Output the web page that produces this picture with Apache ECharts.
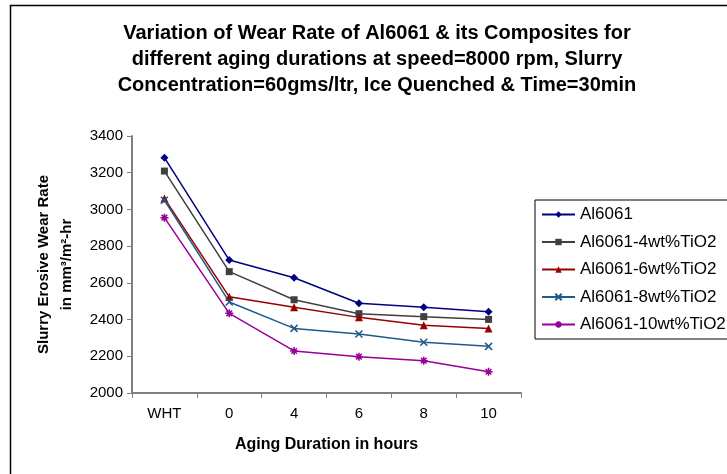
<!DOCTYPE html>
<html>
<head>
<meta charset="utf-8">
<script src="https://cdn.jsdelivr.net/npm/echarts@6/dist/echarts.min.js"></script>
<style>
    html, body {margin: 0; padding: 0; background: #fff;}
    #chart {width: 727px; height: 474px;}
</style>
</head>
<body>
<div id="chart"></div>
<script>
    var durations = ['WHT', '0', '4', '6', '8', '10'];
    var seriesNames = ['Al6061', 'Al6061-4wt%TiO2', 'Al6061-6wt%TiO2', 'Al6061-8wt%TiO2', 'Al6061-10wt%TiO2'];
    var al6061 = [3282, 2724, 2628, 2489, 2467, 2443];
    var tio2_4 = [3209, 2661, 2508, 2432, 2416, 2401];
    var tio2_6 = [3060, 2524, 2467, 2412, 2369, 2352];
    var tio2_8 = [3050, 2496, 2352, 2321, 2276, 2254];
    var tio2_10 = [2955, 2434, 2229, 2198, 2176, 2116];

    var font = 'Arial, "Liberation Sans", sans-serif';
    var colors = ['#000080', '#404040', '#990000', '#1F5A8A', '#990099'];
    var symbols = [
        'diamond',
        'rect',
        'triangle',
        'path://M0,0L10,10M10,0L0,10',
        'path://M0,5L10,5M5,0L5,10M1.5,1.5L8.5,8.5M8.5,1.5L1.5,8.5'
    ];
    var sizes = [8, 7, 8, 7, 8];
    var values = [al6061, tio2_4, tio2_6, tio2_8, tio2_10];

    var series = seriesNames.map(function (name, i) {
        return {
            name: name,
            type: 'line',
            data: values[i],
            symbol: symbols[i],
            symbolSize: sizes[i],
            lineStyle: {color: colors[i], width: 1.5},
            itemStyle: {color: colors[i], borderColor: colors[i], borderWidth: i > 2 ? 1.5 : 0}
        };
    });

    var chart = echarts.init(document.getElementById('chart'));
    chart.setOption({
        animation: false,
        backgroundColor: '#FFFFFF',
        textStyle: {fontFamily: font},
        graphic: [{
            type: 'rect',
            shape: {x: 10.5, y: 5.5, width: 800, height: 600},
            style: {fill: 'none', stroke: '#000', lineWidth: 1.5},
            silent: true
        }, {
            // chart title, centred a bit right of the canvas middle like the original
            type: 'text',
            x: 377,
            y: 20,
            silent: true,
            style: {
                text: 'Variation of Wear Rate of Al6061 & its Composites for\ndifferent aging durations at speed=8000 rpm, Slurry\nConcentration=60gms/ltr, Ice Quenched & Time=30min',
                align: 'center',
                verticalAlign: 'top',
                fontFamily: font,
                fontSize: 20,
                fontWeight: 'bold',
                lineHeight: 26,
                fill: '#000'
            }
        }],
        legend: {
            orient: 'vertical',
            left: 535,
            top: 200,
            padding: [6, 40, 6, 6],
            itemGap: 10.5,
            itemWidth: 33,
            itemHeight: 8,
            borderColor: '#000',
            borderWidth: 1,
            data: seriesNames,
            textStyle: {fontFamily: font, fontSize: 17, color: '#000'}
        },
        grid: {left: 132, right: 206, top: 136, bottom: 81},
        xAxis: {
            type: 'category',
            data: durations,
            boundaryGap: true,
            name: 'Aging Duration in hours',
            nameLocation: 'middle',
            nameGap: 44,
            nameTextStyle: {fontFamily: font, fontSize: 16, fontWeight: 'bold', color: '#000'},
            axisLine: {lineStyle: {color: '#808080', width: 2}},
            axisTick: {show: true, length: 5, lineStyle: {color: '#808080'}},
            axisLabel: {fontFamily: font, fontSize: 15, color: '#000', margin: 13},
            splitLine: {show: false}
        },
        yAxis: {
            type: 'value',
            min: 2000,
            max: 3400,
            interval: 200,
            name: 'Slurry Erosive Wear Rate\nin mm\u00b3/m\u00b2-hr',
            nameLocation: 'middle',
            nameRotate: 90,
            nameGap: 53,
            nameTextStyle: {fontFamily: font, fontSize: 15, fontWeight: 'bold', color: '#000', lineHeight: 23},
            axisLine: {show: true, lineStyle: {color: '#808080', width: 2}},
            axisTick: {show: true, length: 5, lineStyle: {color: '#808080'}},
            axisLabel: {
                fontFamily: font, fontSize: 15, color: '#000', margin: 9,
                formatter: function (v) {
                    return String(v);
                }
            },
            splitLine: {show: false}
        },
        series: series
    });
</script>
</body>
</html>
